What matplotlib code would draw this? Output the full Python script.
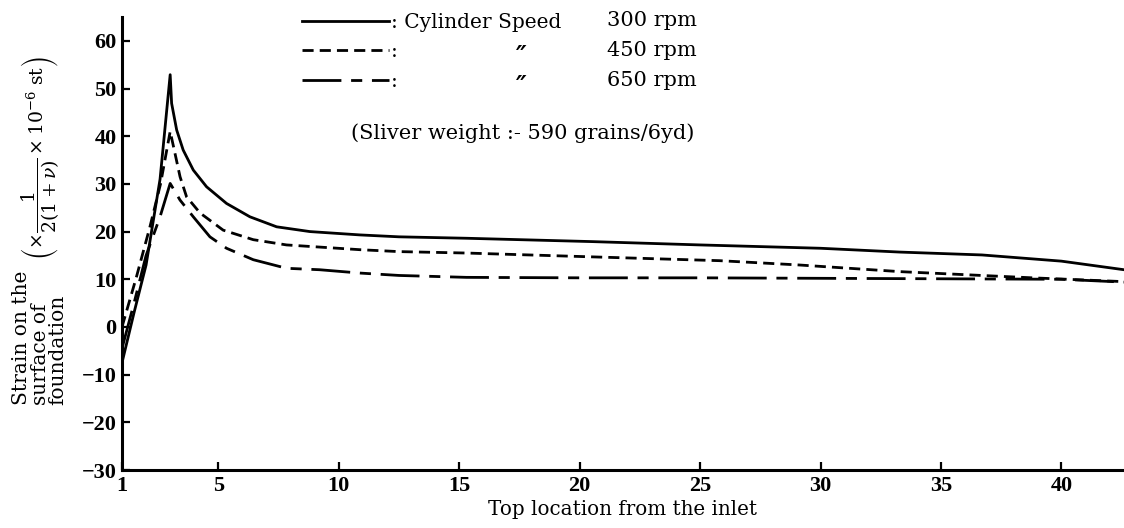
import matplotlib
matplotlib.use("Agg")
import matplotlib.pyplot as plt

plt.rcParams['font.family'] = ['DejaVu Serif']
plt.rcParams['mathtext.fontset'] = 'dejavuserif'

# ---- data ----
x_300 = [1, 1.5, 2.0, 2.58, 3.0, 3.06, 3.27, 3.54, 3.96, 4.51, 5.34, 6.31, 7.42, 8.8, 10.88, 12.5, 15.3, 20.5, 25, 30, 33.3, 36.7, 40, 42.6]
y_300 = [-7.5, 3, 13, 31, 52.9, 46.9, 41.3, 37.1, 32.9, 29.4, 25.9, 23.1, 21.0, 20.0, 19.3, 18.9, 18.6, 17.9, 17.2, 16.5, 15.7, 15.1, 13.8, 12.0]

x_450 = [1, 1.6, 2.16, 2.6, 3.0, 3.2, 3.41, 3.68, 4.24, 5.2, 6.45, 7.83, 10.88, 12.5, 15.3, 20.5, 25.8, 29.1, 33.3, 38.8, 42.6]
y_450 = [0, 10.5, 21, 30, 41, 36.4, 31.5, 27.3, 23.9, 20.3, 18.3, 17.2, 16.2, 15.8, 15.5, 14.7, 13.9, 13.0, 11.6, 10.3, 9.5]

x_650 = [1, 1.5, 2.0, 2.58, 3.0, 3.41, 3.96, 4.65, 5.34, 6.45, 7.83, 9.2, 10.88, 12.5, 15.3, 20, 25, 30, 35, 40, 42.6]
y_650 = [-4.5, 5, 15, 23.1, 30.1, 26.6, 23.1, 18.9, 16.5, 14.1, 12.3, 12.0, 11.3, 10.8, 10.4, 10.3, 10.3, 10.2, 10.1, 10.0, 9.4]

x_ticks = [1, 5, 10, 15, 20, 25, 30, 35, 40]
y_ticks = [-30, -20, -10, 0, 10, 20, 30, 40, 50, 60]
y_ticklabels = ['\u221230', '\u221220', '\u221210', '0', '10', '20', '30', '40', '50', '60']

speeds = ['300 rpm', '450 rpm', '650 rpm']
legend_labels = [': Cylinder Speed', ':', ':']

W, H = 1124, 528
fig = plt.figure(figsize=(W / 100, H / 100), dpi=100)
ax = fig.add_axes([122 / W, 1 - 470 / H, (W - 122) / W, (470 - 17) / H])

lw = 2.0
l1, = ax.plot(x_300, y_300, color='black', lw=lw)
l2, = ax.plot(x_450, y_450, color='black', lw=lw, dashes=(4, 2.2))
l3, = ax.plot(x_650, y_650, color='black', lw=lw, dashes=(14, 3.5, 4, 3.5))

ax.set_xlim(1, 42.6)
ax.set_ylim(-30, 65)
ax.set_xticks(x_ticks)
ax.set_yticks(y_ticks)
ax.set_yticklabels(y_ticklabels)
for s in ['top', 'right']:
    ax.spines[s].set_visible(False)
for s in ['left', 'bottom']:
    ax.spines[s].set_linewidth(2.2)
ax.tick_params(direction='in', length=6, width=1.6)
ax.tick_params(axis='y', pad=4)
ax.tick_params(axis='x', pad=4)
for t in ax.get_xticklabels() + ax.get_yticklabels():
    t.set_fontfamily('Liberation Serif')
    t.set_fontweight('bold')
    t.set_fontsize(16)

ax.set_xlabel('Top location from the inlet', fontsize=14.3, labelpad=3)

# y-axis label (two parts)
fig.text(40 / W, 1 - 338 / H, 'Strain on the\nsurface of\nfoundation', rotation=90,
         ha='center', va='center', multialignment='left', fontsize=14.5,
         linespacing=0.95)
fig.text(40 / W, 1 - 158 / H,
         r'$\left(\times\dfrac{1}{2(1+\nu)}\times 10^{-6}\ \mathrm{st}\right)$',
         rotation=90, ha='center', va='center', fontsize=13.5)

# legend
leg = ax.legend([l1, l2, l3], legend_labels, loc='upper left',
                bbox_to_anchor=(302 / W, 1 - 13 / H), bbox_transform=fig.transFigure,
                frameon=False, fontsize=14.5, handlelength=4.3, handletextpad=0.1,
                labelspacing=0.52, borderpad=0, borderaxespad=0)
for i, (sp, yy) in enumerate(zip(speeds, [20, 50, 80])):
    fig.text(607 / W, 1 - yy / H, sp, ha='left', va='center', fontsize=15)
    if i > 0:
        fig.text(521 / W, 1 - (yy + 6) / H, '\u2033', ha='center', va='center', fontsize=17,
                 style='italic', fontweight='bold', family='DejaVu Sans')

fig.text(523 / W, 1 - 133 / H, '(Sliver weight :- 590 grains/6yd)', ha='center',
         va='center', fontsize=15)

fig.savefig('out.png', dpi=100)
